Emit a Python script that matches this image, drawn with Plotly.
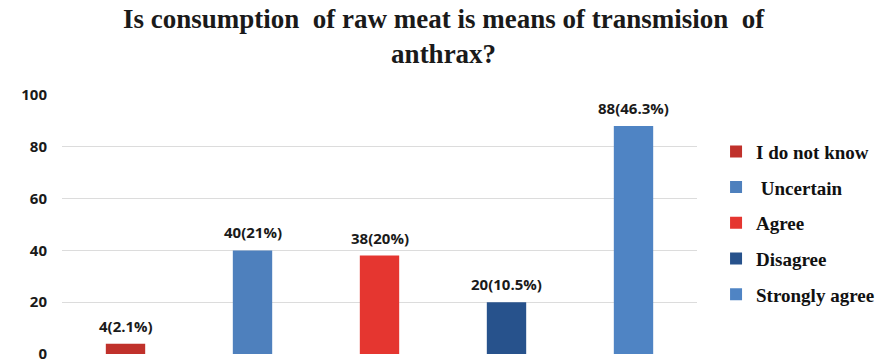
import plotly.graph_objects as go

categories = ["I do not know", " Uncertain", "Agree", "Disagree", "Strongly agree"]
counts = [4, 40, 38, 20, 88]
percent_labels = ["2.1%", "21%", "20%", "10.5%", "46.3%"]
colors = ["#C0312B", "#4E80BD", "#E53630", "#27528C", "#4F84C4"]
y_ticks = [0, 20, 40, 60, 80, 100]

fig = go.Figure()
for i, (name, n, pct, col) in enumerate(zip(categories, counts, percent_labels, colors)):
    fig.add_trace(go.Bar(
        x=[i], y=[n], name=name, width=0.31,
        marker=dict(color=col, line=dict(width=0)),
        legendgroup=name,
    ))
    # value label above each bar
    fig.add_annotation(
        x=i, y=n, text=f"{n}({pct})", showarrow=False,
        xanchor="center", yanchor="bottom", yshift=6,
        font=dict(family="Open Sans", size=15, color="#1a1a1a", weight="bold"),
    )

fig.update_layout(
    width=875, height=364,
    margin=dict(l=62, r=178, t=95, b=10, autoexpand=False),
    paper_bgcolor="white", plot_bgcolor="white",
    barmode="overlay",
    showlegend=True,
    title=dict(
        text="Is consumption  of raw meat is means of transmision  of<br>anthrax?",
        x=0.507, xanchor="center", y=0.922, yanchor="middle",
        font=dict(family="Liberation Serif, Times New Roman, serif", size=27,
                  color="#1a1a1a", weight="bold"),
    ),
    legend=dict(
        x=1.03, xanchor="left", y=0.855, yanchor="top",
        font=dict(family="Liberation Serif, Times New Roman, serif", size=19,
                  color="#111", weight="bold"),
        traceorder="grouped", tracegroupgap=8, itemwidth=30,
    ),
    xaxis=dict(range=[-0.5, 4.5], showticklabels=False, showgrid=False,
               zeroline=False, showline=False, ticks=""),
    yaxis=dict(range=[0, 100], tickvals=y_ticks, showgrid=True, gridcolor="#dcdcdc",
               gridwidth=1, zeroline=False, showline=False, ticks="",
               tickfont=dict(family="Open Sans", size=15, color="#1a1a1a", weight="bold"),
               ticklabelstandoff=14),
)

fig.write_html("out.html")
